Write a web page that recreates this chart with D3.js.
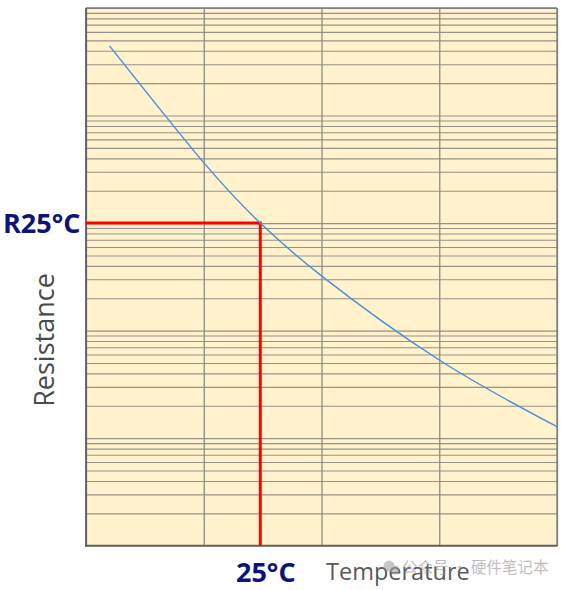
<!DOCTYPE html>
<html>
<head>
<meta charset="utf-8">
<script src="https://cdn.jsdelivr.net/npm/d3@7"></script>
<style>
  html, body { margin: 0; padding: 0; background: #ffffff; }
  svg { display: block; }
</style>
</head>
<body>
<svg id="chart" width="561" height="590"></svg>
<script>
// ---- data ----
const temperatures = [-7, 13, 25, 38, 63, 88];          // °C
const resistances  = [44500, 3650, 1000, 323, 53.3, 12.8]; // Ω (arbitrary units)
const xDomain = [-12, 88];
const xGridValues = [-12, 13, 38, 63, 88];
const yDomain = [1, 100000];
const refTemp = 25;
const refRes = 1000;
const labels = { rRef: "R25°C", tRef: "25°C", xTitle: "Temperature", yTitle: "Resistance", mark: "公众号 · 硬件笔记本" };

// ---- layout ----
const svg = d3.select("#chart");
const pLeft = 86, pRight = 557, pTop = 8, pBottom = 545.7;

const x = d3.scaleLinear().domain(xDomain).range([pLeft, pRight]);
const y = d3.scaleLog().domain(yDomain).range([pBottom, pTop]);

// background
svg.append("rect")
  .attr("x", pLeft).attr("y", pTop)
  .attr("width", pRight - pLeft).attr("height", pBottom - pTop)
  .attr("fill", "#FFF2CC");

// horizontal log grid
const yGrid = svg.append("g")
  .attr("transform", `translate(${pLeft},0)`)
  .call(d3.axisLeft(y).ticks(50).tickSize(-(pRight - pLeft)).tickFormat(""));
yGrid.select(".domain").remove();
yGrid.selectAll("line").attr("stroke", "#969189").attr("stroke-width", 1.1);

// vertical grid
const xGrid = svg.append("g")
  .attr("transform", `translate(0,${pBottom})`)
  .call(d3.axisBottom(x).tickValues(xGridValues).tickSize(-(pBottom - pTop)).tickFormat(""));
xGrid.select(".domain").remove();
xGrid.selectAll("line").attr("stroke", "#8f8b85").attr("stroke-width", 1.3);

// frame: top/right lighter, left/bottom darker
svg.append("line").attr("x1", pLeft).attr("x2", pRight).attr("y1", pTop).attr("y2", pTop)
  .attr("stroke", "#7a7a7a").attr("stroke-width", 1.3);
svg.append("line").attr("x1", pRight).attr("x2", pRight).attr("y1", pTop).attr("y2", pBottom)
  .attr("stroke", "#7a7a7a").attr("stroke-width", 1.3);
svg.append("line").attr("x1", pLeft).attr("x2", pLeft).attr("y1", pTop).attr("y2", pBottom + 1)
  .attr("stroke", "#5f5f5f").attr("stroke-width", 1.8);
svg.append("line").attr("x1", pLeft - 1).attr("x2", pRight + 0.5).attr("y1", pBottom).attr("y2", pBottom)
  .attr("stroke", "#5f5f5f").attr("stroke-width", 1.8);

// red reference lines
svg.append("path")
  .attr("d", d3.line()([[x(xDomain[0]), y(refRes)], [x(refTemp), y(refRes)], [x(refTemp), pBottom]]))
  .attr("fill", "none").attr("stroke", "#FF0000").attr("stroke-width", 3);

// curve
const pts = temperatures.map((t, i) => [t, resistances[i]]);
svg.append("path")
  .datum(pts)
  .attr("d", d3.line().x(d => x(d[0])).y(d => y(d[1])).curve(d3.curveNatural))
  .attr("fill", "none").attr("stroke", "#4A8FDB").attr("stroke-width", 1.4);

// labels
const font = "'Open Sans', 'Noto Sans', sans-serif";
svg.append("text")
  .attr("x", 3).attr("y", y(refRes) + 10)
  .attr("font-family", font).attr("font-weight", 700).attr("font-size", 27)
  .attr("fill", "#0D1478").text(labels.rRef);

svg.append("text")
  .attr("x", x(refTemp) + 5.5).attr("y", 582).attr("text-anchor", "middle")
  .attr("font-family", font).attr("font-weight", 700).attr("font-size", 27)
  .attr("fill", "#0D1478").text(labels.tRef);

svg.append("text")
  .attr("x", 326).attr("y", 580)
  .attr("font-family", font).attr("font-size", 23.5)
  .attr("fill", "#5a5a5a").text(labels.xTitle);

svg.append("text")
  .attr("transform", "translate(54,340) rotate(-90)")
  .attr("text-anchor", "middle")
  .attr("font-family", font).attr("font-size", 27)
  .attr("fill", "#4a4a4a").text(labels.yTitle);

// watermark
const wm = svg.append("g").attr("opacity", 0.55);
wm.append("circle").attr("cx", 389).attr("cy", 566).attr("r", 5.5).attr("fill", "#9a9a9a");
wm.append("circle").attr("cx", 395).attr("cy", 570).attr("r", 4.5).attr("fill", "#9a9a9a");
wm.append("text")
  .attr("x", 402).attr("y", 573)
  .attr("font-family", "'Noto Sans CJK SC', sans-serif").attr("font-size", 15.5)
  .attr("fill", "#8a8a8a").text(labels.mark);
</script>
</body>
</html>
